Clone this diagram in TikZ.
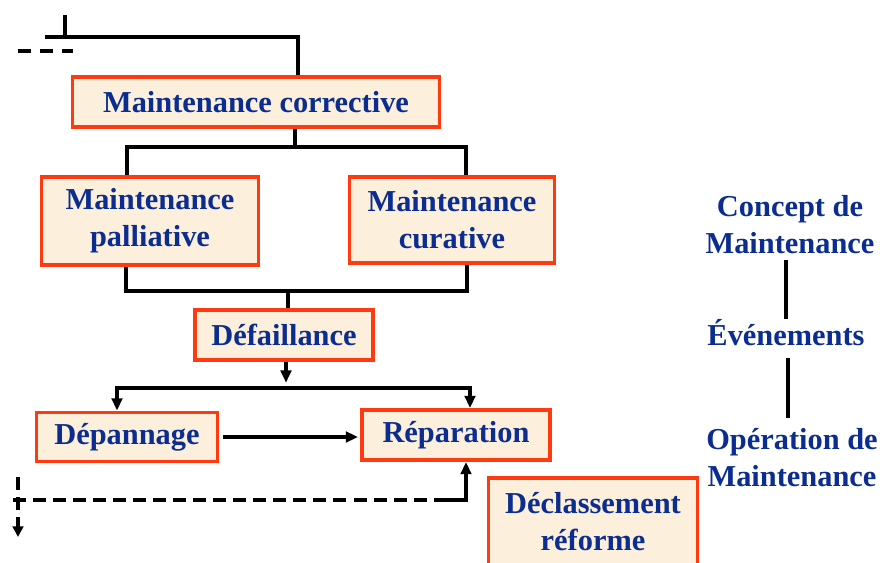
\documentclass[tikz,border=0pt]{standalone}
\usepackage{fontspec}
\setmainfont{Liberation Serif}
\usetikzlibrary{arrows.meta}
\definecolor{boxred}{HTML}{FF3A10}
\definecolor{boxfill}{HTML}{FCF0DC}
\definecolor{txtblue}{HTML}{0B2D8F}
\begin{document}
\begin{tikzpicture}[x=0.02cm,y=-0.02cm,
  font=\fontsize{17.3}{21}\selectfont\bfseries,
  box/.style={draw=boxred,fill=boxfill,line width=2.2pt,text=txtblue,align=center,inner sep=0pt},
  lbl/.style={text=txtblue,align=center,inner sep=0pt},
  link/.style={line width=2pt},
  dashlink/.style={link,dash pattern=on 7.4pt off 4pt},
  arr/.style={link,-{Triangle[length=7pt,width=6pt]}}]
  \useasboundingbox (0,0) rectangle (882,563);

  %---------------------------------------
  % boxes
  \node[box,minimum width=7.34cm,minimum height=1cm] (corr) at (256,102) {Maintenance corrective};
  \node[box,minimum width=4.34cm,minimum height=1.76cm] (pall) at (150,221) {Maintenance\\palliative};
  \node[box,minimum width=4.1cm,minimum height=1.72cm] (cura) at (452,220) {Maintenance\\curative};
  \node[box,minimum width=3.56cm,minimum height=1cm] (defa) at (284,335) {Défaillance};
  \node[box,minimum width=3.62cm,minimum height=0.98cm] (depa) at (127,437) {Dépannage};
  \node[box,minimum width=3.76cm,minimum height=1cm] (repa) at (456,435) {Réparation};
  \node[box,minimum width=4.18cm,minimum height=1.76cm] (decl) at (593,522) {Déclassement\\réforme};

  %---------------------------------------
  % right column
  \node[lbl] (conc) at (790,225) {Concept de\\Maintenance};
  \node[lbl] (even) at (786,333) {Événements};
  \node[lbl] (oper) at (792,458) {Opération de\\Maintenance};
  \draw[link,shorten <=3.4pt] (conc.south -| even) -- (even.north);
  \draw[link,shorten <=6.8pt,shorten >=5.7pt] (even.south -| 788,0) -- (oper.north -| 788,0);

  %---------------------------------------
  % top entry
  \coordinate (tick) at (65,15);
  \coordinate (entry) at (298,37);
  \draw[link] (tick) -- (tick |- entry);
  \draw[link] (45,37) -- (entry) -- (entry |- corr.north);
  \draw[link,dash pattern=on 7.4pt off 5pt] (18,51) -- (73,51);

  % corrective -> palliative / curative
  \coordinate (split1) at (295,147);
  \draw[link] (corr.south -| split1) -- (split1);
  \draw[link] ([xshift=-0.46cm]pall.north) |- (split1) -| ([xshift=0.28cm]cura.north);

  % palliative / curative -> defaillance
  \coordinate (join1) at (288,291);
  \draw[link] ([xshift=-0.48cm]pall.south) |- (join1) -| ([xshift=0.3cm]cura.south);
  \draw[link] (join1) -- (defa.north -| join1);

  % defaillance -> depannage / reparation
  \coordinate (split2) at (286,388);
  \draw[arr] (defa.south -| split2) -- ([yshift=3pt]split2);
  \draw[arr] (split2) -| ([xshift=-0.2cm]depa.north);
  \draw[arr] (split2) -| ([xshift=0.28cm]repa.north);
  \draw[arr] ([xshift=0.08cm]depa.east) -- ([xshift=-0.04cm]depa.east -| repa.west);

  % dashed loop at bottom
  \coordinate (loopA) at (18,477);
  \coordinate (loopB) at (13,500);
  \coordinate (loopC) at (18,537);
  \coordinate (corner) at (440,500);
  \draw[dashlink,-{Triangle[length=6pt,width=6pt]}] (loopA) -- (loopC);
  \draw[dashlink] (loopB) -- (corner);
  \draw[arr] (corner) -| ([xshift=0.2cm]repa.south);
\end{tikzpicture}
\end{document}
